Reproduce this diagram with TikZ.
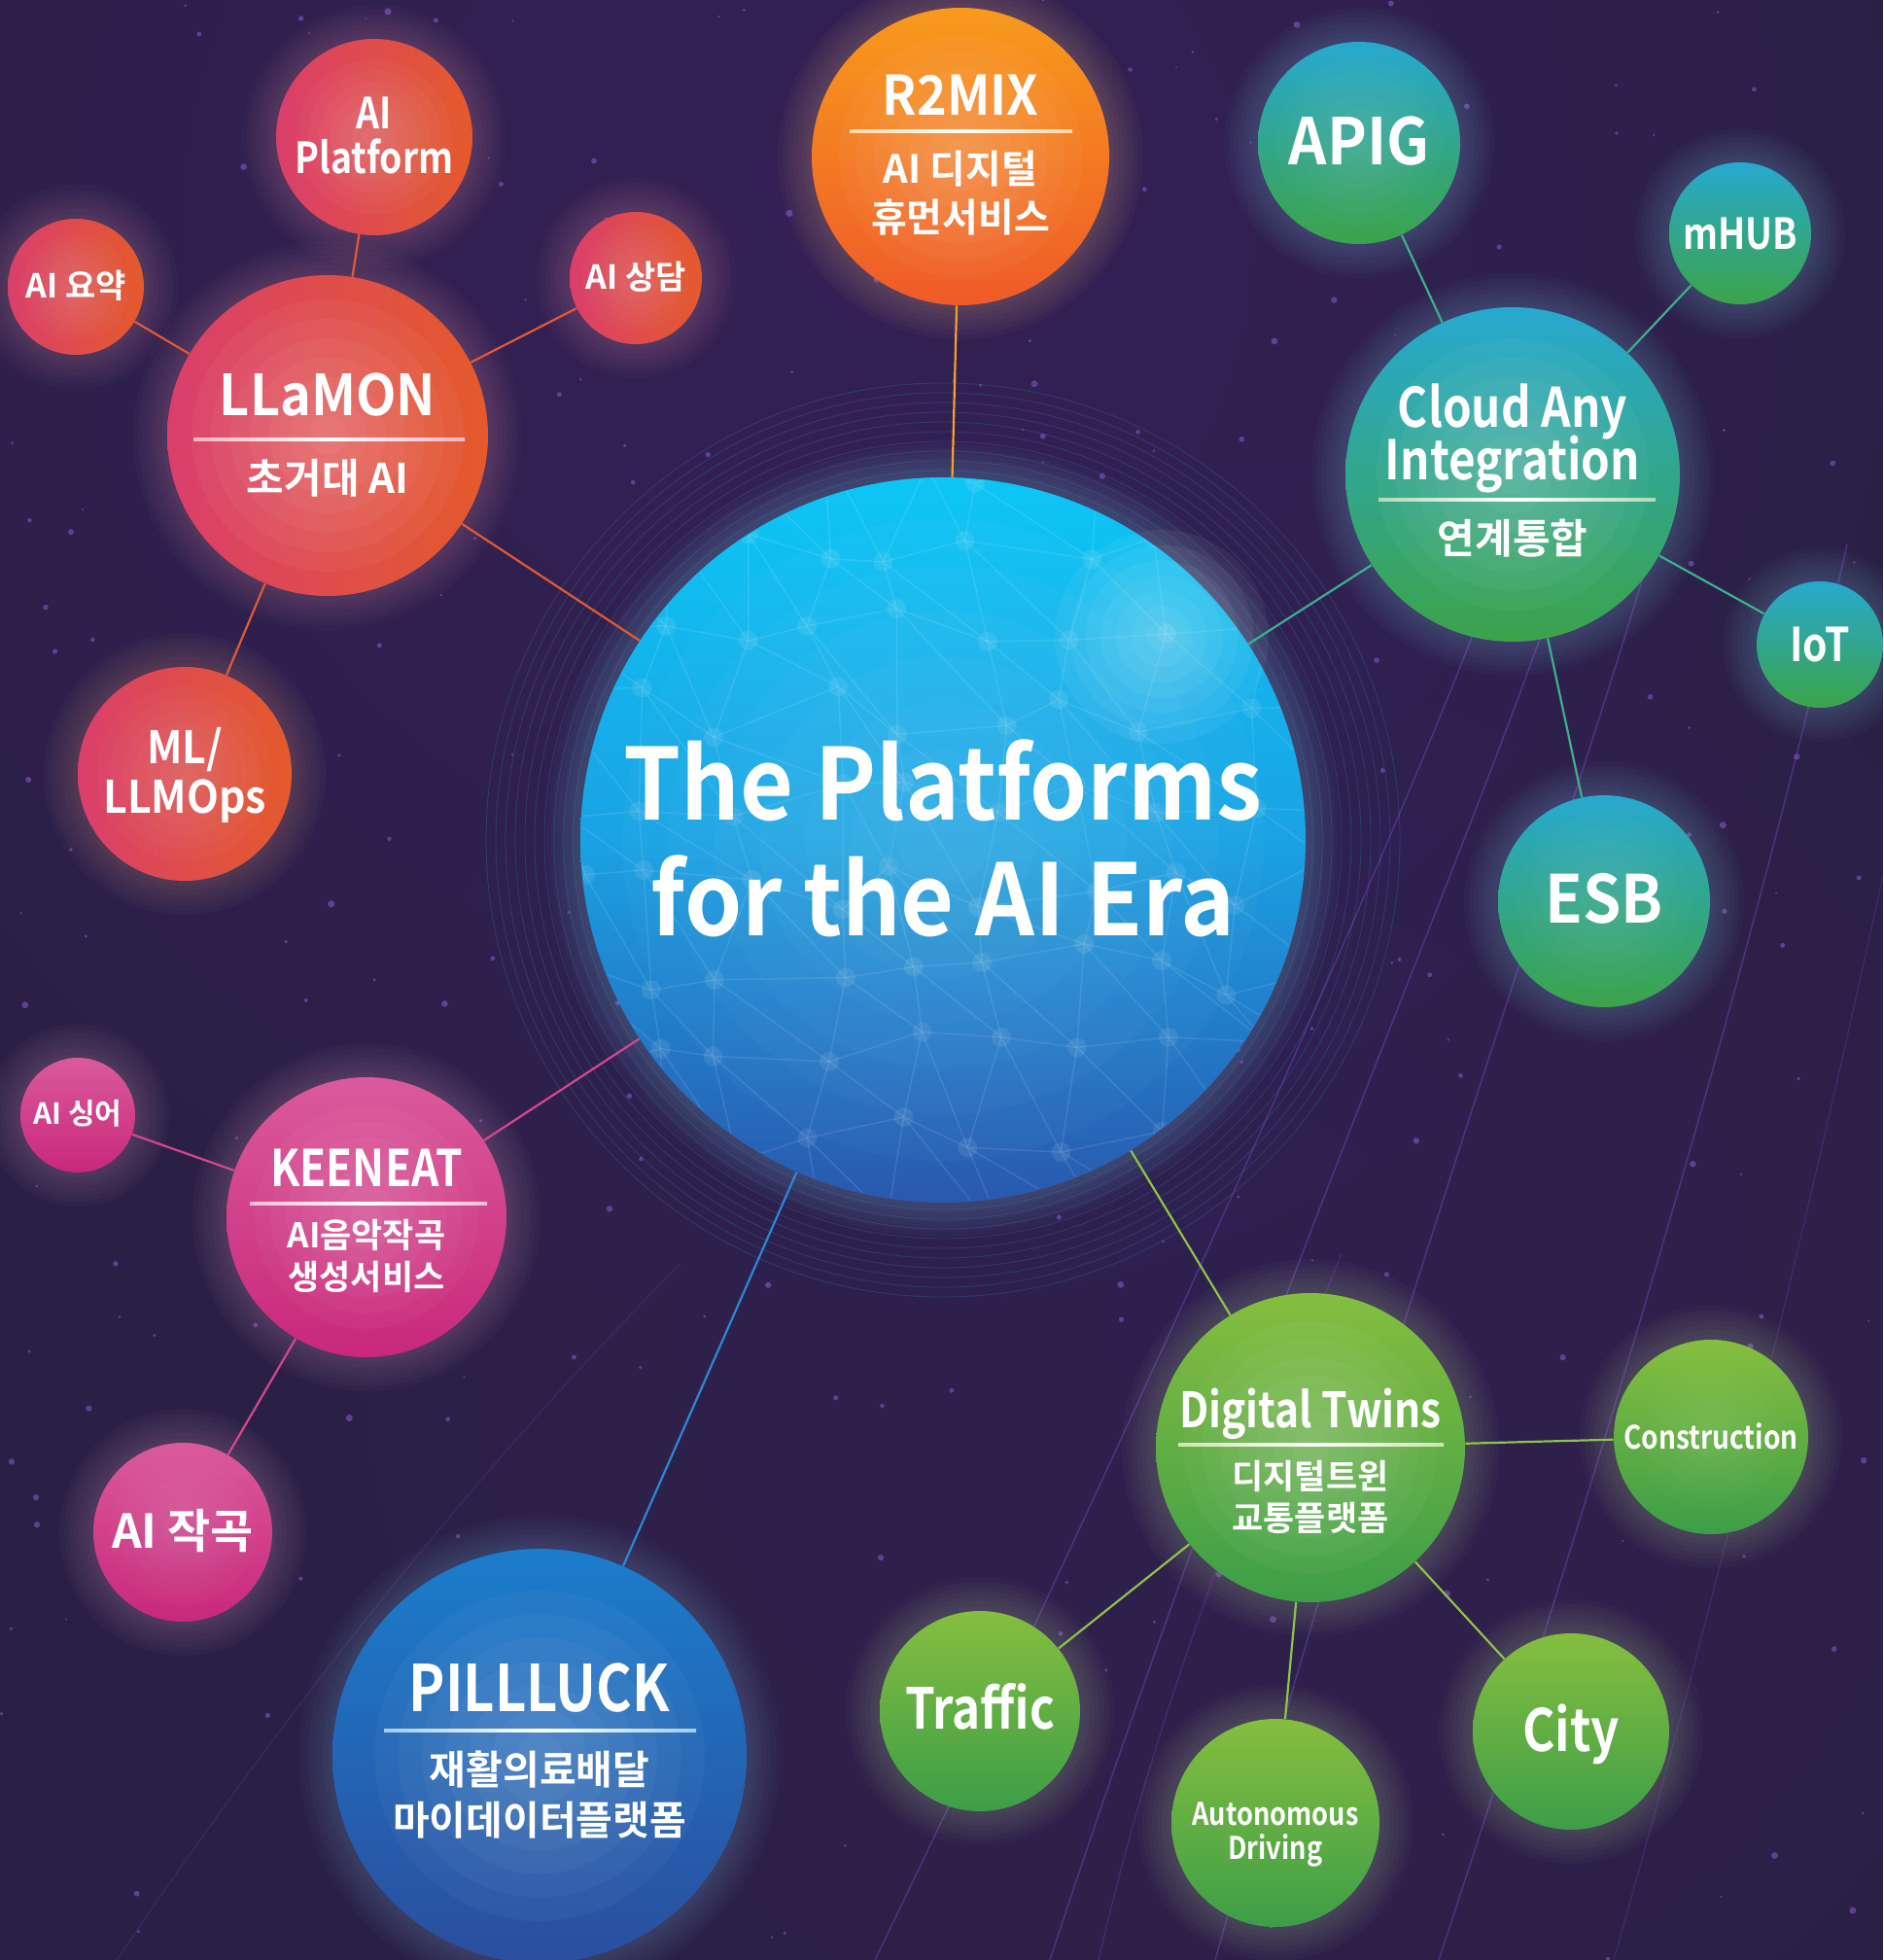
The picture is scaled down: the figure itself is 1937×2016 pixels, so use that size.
\documentclass[tikz,border=0pt]{standalone}
\usepackage{fontspec}
\setmainfont{Noto Sans CJK KR}[BoldFont={Noto Sans CJK KR Bold}]
\newfontfamily\latA{Noto Sans CJK KR Bold}[FakeStretch=0.93]
\newfontfamily\latB{Noto Sans CJK KR Bold}[FakeStretch=0.85]
\definecolor{bgc}{HTML}{2A2046}
\definecolor{bgl}{HTML}{4A3275}
\definecolor{starc}{HTML}{8A5CD6}
\definecolor{arcc}{HTML}{7444C4}
\definecolor{ringc}{HTML}{2C86AE}
\definecolor{redA}{HTML}{DA3F6C}
\definecolor{redB}{HTML}{E45A2B}
\definecolor{redL}{HTML}{E25A35}
\definecolor{orA}{HTML}{F89A1C}
\definecolor{orB}{HTML}{EF5A29}
\definecolor{orL}{HTML}{F2A12E}
\definecolor{tealA}{HTML}{27A9CF}
\definecolor{tealB}{HTML}{3CA34A}
\definecolor{tealL}{HTML}{3DB08C}
\definecolor{pinkA}{HTML}{DA5A9C}
\definecolor{pinkB}{HTML}{C9287A}
\definecolor{pinkL}{HTML}{D8468C}
\definecolor{bluA}{HTML}{1B7DCC}
\definecolor{bluB}{HTML}{2B4E9E}
\definecolor{bluL}{HTML}{2B88D8}
\definecolor{grnA}{HTML}{85BE3F}
\definecolor{grnB}{HTML}{3D9E48}
\definecolor{grnL}{HTML}{8DC447}
\definecolor{skyA}{HTML}{0DC6F5}
\definecolor{skyM}{HTML}{1AA2E4}
\definecolor{skyB}{HTML}{2A58AE}
% halo: x y r colour
\newcommand\halo[4]{\foreach \k in {1,...,7}{\fill[#4!55!white, fill opacity=0.03] (#1,#2) circle[radius={(#3+\k*5)*0.5pt}];}}
% shine: x y r opacity-step
\newcommand\shine[4]{\foreach \k in {1,...,7}{\fill[white, fill opacity=#4] (#1,#2) circle[radius={#3*\k/7*0.5pt}];}}
% label: [family] name x capcentre-y size text
\newcommand\lbl[6][\bfseries]{\node[lbl, font=#1\fontsize{#5}{#5}\selectfont] (#2) at (#3,{#4+0.73*#5}) {#6};}
% separator: name x1 x2 y endcolour
\newcommand\sepline[5]{\shade[left color=#5, right color=#5, middle color=white] (#2,{#4-1.6}) rectangle (#3,{#4+1.6}); \coordinate (#1) at ({(#2+#3)/2},#4);}
\begin{document}
\begin{tikzpicture}[x=0.5pt,y=-0.5pt,
  bub/.style={circle, inner sep=0pt, minimum size=#1 pt},
  redb/.style={bub=#1, left color=redA, right color=redB},
  orb/.style={bub=#1, top color=orA, bottom color=orB},
  tealb/.style={bub=#1, top color=tealA, bottom color=tealB},
  pinkb/.style={bub=#1, top color=pinkA, bottom color=pinkB},
  blub/.style={bub=#1, top color=bluA, bottom color=bluB},
  grnb/.style={bub=#1, top color=grnA, bottom color=grnB},
  coreb/.style={bub=#1, top color=skyA, bottom color=skyB, middle color=skyM},
  lbl/.style={text=white, inner sep=0pt, anchor=base},
  cn/.style={draw=#1, line width=1.1pt},
  net/.style={draw=white, draw opacity=0.10, line width=0.8pt},
  netdot/.style={fill=white, fill opacity=0.09},
  star/.style={fill=starc, fill opacity=0.55},
  arc/.style={draw=arcc, draw opacity=0.5, line width=0.7pt},
  ring/.style={draw=ringc, draw opacity=0.28, line width=0.45pt}]
\useasboundingbox (0,0) rectangle (1937,2016);
\begin{scope}
\clip (0,0) rectangle (1937,2016);
\fill[bgc] (0,0) rectangle (1937,2016);
\foreach \k in {1,...,10}{\fill[bgl, fill opacity=0.05] (850,250) circle[radius=\k*55pt];}
\foreach \k in {1,...,8}{\fill[bgl, fill opacity=0.035] (1250,1350) circle[radius=\k*55pt];}
% stars
\pgfmathsetseed{11}
\foreach \s in {1,...,260}{\pgfmathsetmacro\sx{rnd*1937}\pgfmathsetmacro\sy{rnd*2016}\pgfmathsetmacro\sr{0.5+rnd*1.3}\fill[star] (\sx,\sy) circle[radius=\sr pt];}
% arcs
\draw[arc] (1700,560) .. controls (1600,900) and (1450,1300) .. (1250,2016);
\draw[arc] (1590,640) .. controls (1480,950) and (1300,1350) .. (1080,2016);
\draw[arc] (1900,560) .. controls (1800,1000) and (1650,1500) .. (1480,2016);
\draw[arc] (1520,640) .. controls (1420,900) and (1150,1500) .. (900,2016);
\draw[arc, draw opacity=0.3] (1380,1290) .. controls (1250,1600) and (1180,1800) .. (1130,2016);
\draw[arc, draw opacity=0.2] (700,1300) .. controls (500,1500) and (300,1750) .. (120,2016);
\draw[arc, draw opacity=0.25] (1937,900) .. controls (1850,1300) and (1750,1700) .. (1660,2016);
% rings round the core
\foreach \rr in {190,195,...,236}{\draw[ring] (970,864) circle[radius=\rr pt];}
% halos
\halo{970}{864}{373}{skyA}
\halo{337}{448}{165}{redA}
\halo{385}{141}{101}{redA}
\halo{78}{295}{70}{redA}
\halo{654}{286}{68}{redA}
\halo{190}{796}{110}{redB}
\halo{988}{161}{153}{orA}
\halo{1398}{147}{104}{tealA}
\halo{1790}{240}{73}{tealA}
\halo{1556}{488}{172}{tealA}
\halo{1872}{663}{65}{tealA}
\halo{1650}{927}{109}{tealA}
\halo{80}{1147}{59}{pinkA}
\halo{377}{1252}{144}{pinkA}
\halo{188}{1576}{92}{pinkA}
\halo{555}{1806}{213}{bluA}
\halo{1348}{1489}{159}{grnA}
\halo{1760}{1478}{100}{grnA}
\halo{1008}{1760}{103}{grnA}
\halo{1616}{1781}{101}{grnA}
\halo{1312}{1875}{107}{grnA}
% bubbles
\node[coreb=373] (core) at (970,864) {};
\node[redb=165] (llamon) at (337,448) {};
\node[redb=101] (aiplat) at (385,141) {};
\node[redb=70] (aisum) at (78,295) {};
\node[redb=68] (aicons) at (654,286) {};
\node[redb=110] (mlops) at (190,796) {};
\node[orb=153] (r2mix) at (988,161) {};
\node[tealb=104] (apig) at (1398,147) {};
\node[tealb=73] (mhub) at (1790,240) {};
\node[tealb=172] (cloud) at (1556,488) {};
\node[tealb=65] (iot) at (1872,663) {};
\node[tealb=109] (esb) at (1650,927) {};
\node[pinkb=59] (aising) at (80,1147) {};
\node[pinkb=144] (keeneat) at (377,1252) {};
\node[pinkb=92] (aicomp) at (188,1576) {};
\node[blub=213] (pillluck) at (555,1806) {};
\node[grnb=159] (dtwin) at (1348,1489) {};
\node[grnb=100] (constr) at (1760,1478) {};
\node[grnb=103] (traffic) at (1008,1760) {};
\node[grnb=101] (city) at (1616,1781) {};
\node[grnb=107] (auto) at (1312,1875) {};
% network on the core
\begin{scope}
\clip (970,864) circle[radius=186pt];
\pgfmathsetseed{5}
\foreach \i in {0,...,9}{\foreach \j in {0,...,9}{%
  \pgfmathsetmacro\px{580+\i*88+rand*28}\pgfmathsetmacro\py{470+\j*88+rand*28}%
  \coordinate (p-\i-\j) at (\px,\py);}}
\foreach \i [evaluate=\i as \ni using int(\i+1)] in {0,...,8}{%
 \foreach \j [evaluate=\j as \nj using int(\j+1)] in {0,...,8}{%
  \draw[net] (p-\i-\j) -- (p-\ni-\j) (p-\i-\j) -- (p-\i-\nj) (p-\i-\j) -- (p-\ni-\nj);
  \fill[netdot] (p-\i-\j) circle[radius=5pt];}}
\end{scope}
% shine
\shine{970}{864}{330}{0.025}
\shine{1195}{655}{110}{0.05}
\shine{337}{448}{140}{0.04}
\shine{385}{141}{80}{0.03}
\shine{78}{295}{55}{0.025}
\shine{654}{286}{55}{0.025}
\shine{190}{796}{90}{0.025}
\shine{988}{161}{125}{0.035}
\shine{1398}{147}{85}{0.02}
\shine{1556}{488}{140}{0.035}
\shine{1650}{927}{90}{0.015}
\shine{377}{1252}{115}{0.03}
\shine{188}{1576}{75}{0.02}
\shine{555}{1806}{170}{0.035}
\shine{1348}{1489}{130}{0.035}
\shine{1760}{1478}{75}{0.015}
% connectors
\draw[cn=redL] (llamon) -- (core);
\draw[cn=redL] (llamon) -- (aiplat);
\draw[cn=redL] (llamon) -- (aisum);
\draw[cn=redL] (llamon) -- (aicons);
\draw[cn=redL] (llamon) -- (mlops);
\draw[cn=orL] (r2mix) -- (core);
\draw[cn=tealL] (cloud) -- (core);
\draw[cn=tealL] (cloud) -- (apig);
\draw[cn=tealL] (cloud) -- (mhub);
\draw[cn=tealL] (cloud) -- (iot);
\draw[cn=tealL] (cloud) -- (esb);
\draw[cn=pinkL] (keeneat) -- (core);
\draw[cn=pinkL] (keeneat) -- (aising);
\draw[cn=pinkL] (keeneat) -- (aicomp);
\draw[cn=bluL] (pillluck) -- (core);
\draw[cn=grnL] (dtwin) -- (core);
\draw[cn=grnL] (dtwin) -- (constr);
\draw[cn=grnL] (dtwin) -- (traffic);
\draw[cn=grnL] (dtwin) -- (city);
\draw[cn=grnL] (dtwin) -- (auto);
% separators
\sepline{llamon-sep}{199}{478}{452}{redA!40!white}
\sepline{r2mix-sep}{874}{1103}{135}{orA!40!white}
\sepline{cloud-sep}{1418}{1703}{514}{tealB!40!white}
\sepline{keeneat-sep}{257}{501}{1238}{pinkA!40!white}
\sepline{pillluck-sep}{395}{716}{1780}{bluA!40!white}
\sepline{dtwin-sep}{1212}{1485}{1486}{grnA!40!white}
% labels
\lbl[\latA]{core-1}{970}{806}{51}{The Platforms}
\lbl[\latA]{core-2}{970}{925}{51}{for the AI Era}
\lbl[\latA]{llamon-1}{337}{406}{29}{LLaMON}
\lbl{llamon-2}{337}{492}{21}{초거대 AI}
\lbl[\latB]{aiplat-1}{385}{116}{22}{AI}
\lbl[\latB]{aiplat-2}{385}{162}{22}{Platform}
\lbl{aisum-1}{78}{294}{17}{AI 요약}
\lbl{aicons-1}{654}{285}{17}{AI 상담}
\lbl[\latA]{mlops-1}{190}{769}{23}{ML/}
\lbl[\latA]{mlops-2}{190}{820}{23}{LLMOps}
\lbl[\latA]{r2mix-1}{988}{98}{28}{R2MIX}
\lbl{r2mix-2}{988}{174}{20}{AI 디지털}
\lbl{r2mix-3}{988}{224}{20}{휴먼서비스}
\lbl[\latA]{apig-1}{1398}{145}{33}{APIG}
\lbl[\latB]{mhub-1}{1790}{240}{22}{mHUB}
\lbl[\latB]{cloud-1}{1556}{419}{28}{Cloud Any}
\lbl[\latB]{cloud-2}{1556}{473}{28}{Integration}
\lbl{cloud-3}{1556}{554}{21}{연계통합}
\lbl[\latB]{iot-1}{1872}{663}{24}{IoT}
\lbl[\latA]{esb-1}{1650}{925}{34}{ESB}
\lbl{aising-1}{80}{1146}{15}{AI 싱어}
\lbl[\latB]{keeneat-1}{377}{1202}{26}{KEENEAT}
\lbl{keeneat-2}{377}{1271}{17.5}{AI음악작곡}
\lbl{keeneat-3}{377}{1314}{17.5}{생성서비스}
\lbl{aicomp-1}{188}{1575}{24}{AI 작곡}
\lbl[\latB]{pillluck-1}{555}{1736}{33}{PILLLUCK}
\lbl{pillluck-2}{555}{1821}{20.5}{재활의료배달}
\lbl{pillluck-3}{555}{1873}{20.5}{마이데이터플랫폼}
\lbl[\latB]{dtwin-1}{1348}{1450}{25}{Digital Twins}
\lbl{dtwin-2}{1348}{1519}{17.5}{디지털트윈}
\lbl{dtwin-3}{1348}{1562}{17.5}{교통플랫폼}
\lbl[\latB]{constr-1}{1760}{1478}{16.5}{Construction}
\lbl[\latB]{traffic-1}{1008}{1757}{29}{Traffic}
\lbl[\latB]{city-1}{1616}{1780}{30}{City}
\lbl[\latB]{auto-1}{1312}{1866}{16}{Autonomous}
\lbl[\latB]{auto-2}{1312}{1901}{16}{Driving}
\end{scope}
\end{tikzpicture}
\end{document}
